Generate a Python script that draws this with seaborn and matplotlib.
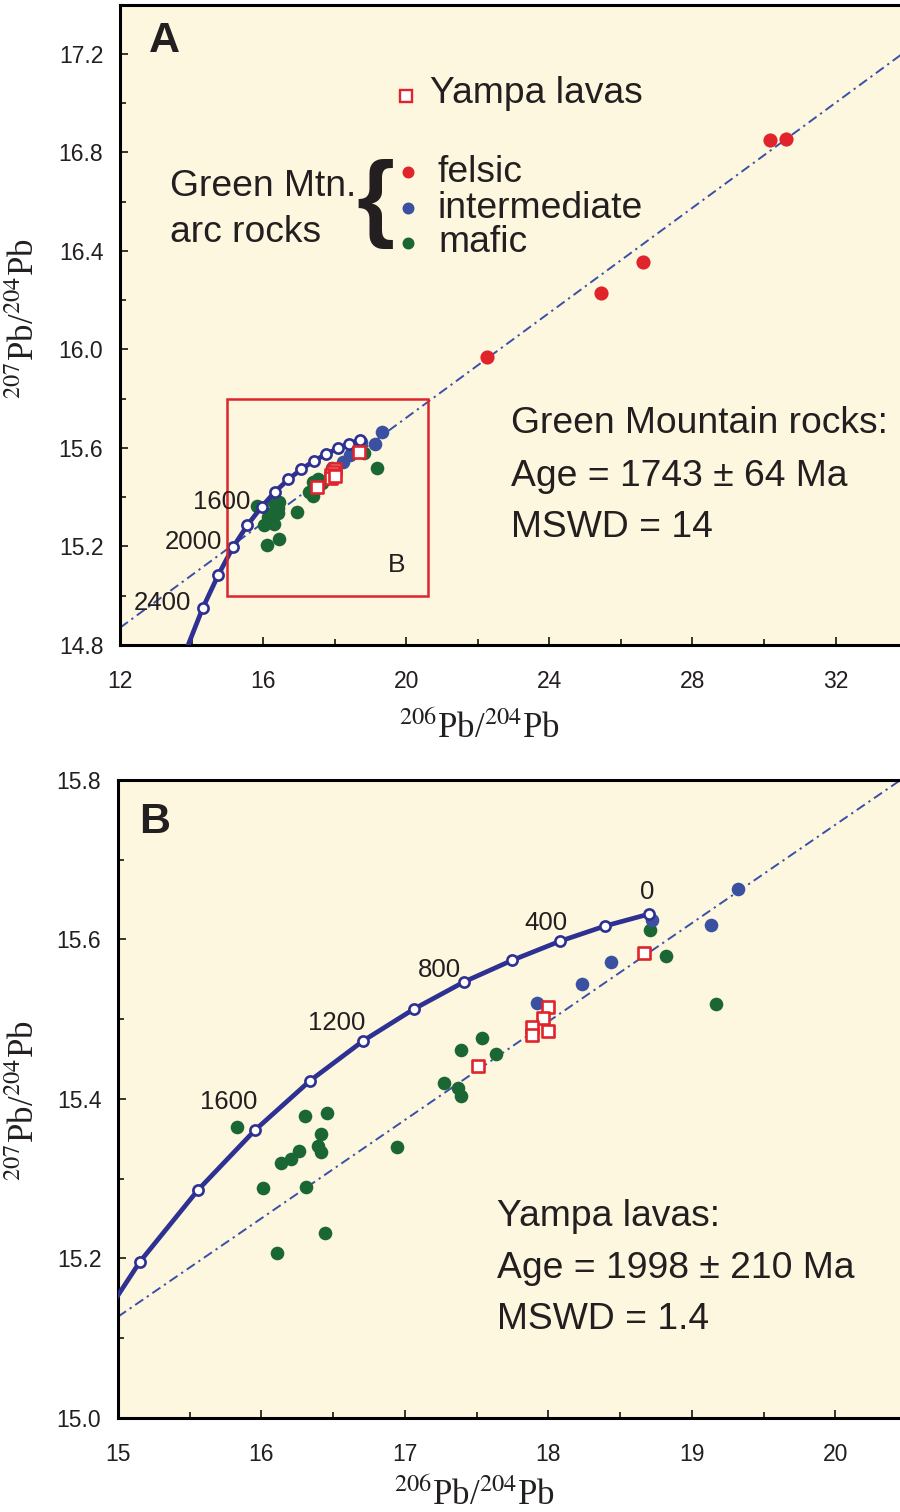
import matplotlib
matplotlib.use("Agg")
import matplotlib.pyplot as plt
import seaborn as sns
import pandas as pd
from matplotlib.ticker import MultipleLocator, FormatStrFormatter
from matplotlib.patches import Rectangle
from matplotlib.lines import Line2D

# ---------------- data ----------------
curve_age = [0, 200, 400, 600, 800, 1000, 1200, 1400, 1600, 1800, 2000, 2200, 2400, 2600]
curve_x = [18.703, 18.396, 18.082, 17.748, 17.413, 17.064, 16.709, 16.339,
           15.955, 15.558, 15.153, 14.742, 14.309, 13.864]
curve_y = [15.632, 15.617, 15.598, 15.574, 15.547, 15.513, 15.473, 15.423,
           15.361, 15.286, 15.196, 15.083, 14.949, 14.785]
labels_A = [1600, 2000, 2400]
labels_B = [0, 400, 800, 1200, 1600]

felsic_x = [22.25, 25.44, 26.61, 30.16, 30.60]
felsic_y = [15.970, 16.230, 16.356, 16.851, 16.855]

inter_x = [18.724, 19.324, 19.135, 18.438, 18.236, 17.922]
inter_y = [15.624, 15.663, 15.618, 15.572, 15.544, 15.520]

mafic_x = [15.830, 16.304, 16.457, 16.416, 16.395, 16.416, 16.262, 16.206, 16.137,
           16.011, 16.311, 16.946, 16.444, 16.109, 17.273, 17.371, 17.392, 17.392,
           17.538, 17.636, 18.710, 18.822, 19.170]
mafic_y = [15.365, 15.379, 15.382, 15.356, 15.341, 15.334, 15.335, 15.325, 15.320,
           15.288, 15.290, 15.340, 15.232, 15.207, 15.420, 15.414, 15.404, 15.461,
           15.476, 15.456, 15.612, 15.579, 15.519]

yampa_x = [18.668, 17.999, 17.964, 17.887, 17.887, 17.999, 17.510]
yampa_y = [15.583, 15.515, 15.502, 15.490, 15.480, 15.485, 15.441]

iso_A_x = [12.0, 34.0]
iso_A_y = [14.87, 17.215]
iso_B_x = [15.0, 20.6]
iso_B_y = [15.127, 15.818]

box_B_x = [15.0, 20.6]
box_B_y = [15.0, 15.8]

# ---------------- style ----------------
BG = "#fcf7de"
RED = "#e0242b"
BLUE = "#3a50a0"
GREEN = "#1a6634"
NAVY = "#2e3192"
ISO = "#3a50a8"
TXT = "#231f20"

sns.set_theme(style="ticks")
plt.rcParams['font.family'] = ['Liberation Sans', 'DejaVu Sans']
plt.rcParams['mathtext.fontset'] = 'stix'
plt.rcParams['lines.scale_dashes'] = False

W, H = 900, 1512
P = 0.72  # points per pixel at dpi 100
fig = plt.figure(figsize=(9, 15.12), dpi=100)
fig.patch.set_facecolor("white")


def fx(x):
    return x / W


def fy(y):
    return 1 - y / H


axA = fig.add_axes([fx(120), fy(645), fx(780), (645 - 4.7) / H])
axB = fig.add_axes([fx(118), fy(1418), fx(782), (1418 - 780) / H])

curve = pd.DataFrame({"age": curve_age, "x": curve_x, "y": curve_y})


def draw(ax, node_max, iso_x, iso_y):
    sns.lineplot(x=iso_x, y=iso_y, ax=ax, color=ISO, lw=1.4,
                 linestyle=(0, (7.0, 3.2, 1.6, 3.2)),
                 zorder=2, sort=False, estimator=None)
    sns.scatterplot(x=mafic_x, y=mafic_y, ax=ax, color=GREEN, s=96, linewidth=0, zorder=3)
    sns.scatterplot(x=inter_x, y=inter_y, ax=ax, color=BLUE, s=96, linewidth=0, zorder=3)
    sns.scatterplot(x=felsic_x, y=felsic_y, ax=ax, color=RED, s=104, linewidth=0, zorder=3)
    sns.lineplot(data=curve, x="x", y="y", ax=ax, color=NAVY, lw=3.4, sort=False,
                 estimator=None, zorder=4)
    nodes = curve[curve["age"] <= node_max]
    sns.scatterplot(data=nodes, x="x", y="y", ax=ax, marker="o", s=54,
                    facecolor="white", edgecolor=NAVY, linewidth=1.9, zorder=5)
    sns.scatterplot(x=yampa_x, y=yampa_y, ax=ax, marker="s", s=70,
                    facecolor="white", edgecolor=RED, linewidth=1.9, zorder=6)


def style(ax, xlim, ylim, xmaj, xmin, ymaj, ymin):
    ax.set_facecolor(BG)
    ax.set_xlim(xlim)
    ax.set_ylim(ylim)
    ax.xaxis.set_major_locator(MultipleLocator(xmaj))
    ax.xaxis.set_minor_locator(MultipleLocator(xmin))
    ax.yaxis.set_major_locator(MultipleLocator(ymaj))
    ax.yaxis.set_minor_locator(MultipleLocator(ymin))
    ax.xaxis.set_major_formatter(FormatStrFormatter('%d'))
    ax.yaxis.set_major_formatter(FormatStrFormatter('%.1f'))
    ax.tick_params(which='both', direction='in', color='black', width=1.1,
                   labelsize=16.5, labelcolor=TXT, top=False, right=False)
    ax.tick_params(which='major', length=6)
    ax.tick_params(which='minor', length=4.5)
    ax.tick_params(axis='x', which='major', pad=18)
    ax.tick_params(axis='y', which='major', pad=12)
    for s in ['left', 'bottom', 'top']:
        ax.spines[s].set_linewidth(2.2)
        ax.spines[s].set_color('black')
    ax.spines['right'].set_visible(False)
    ax.set_xlabel('')
    ax.set_ylabel('')
    if ax.get_legend():
        ax.get_legend().remove()


# ---------------- panel A ----------------
draw(axA, 2400, iso_A_x, iso_A_y)
style(axA, (12, 33.8), (14.8, 17.4), 4, 2, 0.4, 0.2)
axA.add_patch(Rectangle((box_B_x[0], box_B_y[0]), box_B_x[1] - box_B_x[0],
                        box_B_y[1] - box_B_y[0], fill=False, edgecolor=RED,
                        lw=1.8, zorder=7))
for age in labels_A:
    r = curve[curve["age"] == age].iloc[0]
    axA.annotate(str(age), xy=(r.x, r.y), xytext=(-11 * P, -2 * P),
                 textcoords='offset points', ha='right', va='baseline',
                 fontsize=18.5, color=TXT, zorder=8)

# ---------------- panel B ----------------
draw(axB, 2200, iso_B_x, iso_B_y)
style(axB, (15, 20.45), (15.0, 15.8), 1, 0.5, 0.2, 0.1)
offB = {0: (-2.5, 15), 400: (-14.5, 11), 800: (-25, 5), 1200: (-26.5, 11), 1600: (-26.5, 21)}
for age in labels_B:
    r = curve[curve["age"] == age].iloc[0]
    dx, dy = offB[age]
    axB.annotate(str(age), xy=(r.x, r.y), xytext=(dx * P, dy * P),
                 textcoords='offset points', ha='center', va='baseline',
                 fontsize=18.5, color=TXT, zorder=8)

# ---------------- text ----------------
big = 26.8


def T(x, y, s, **kw):
    kw.setdefault('fontsize', big)
    kw.setdefault('color', TXT)
    kw.setdefault('va', 'baseline')
    fig.text(fx(x), fy(y), s, **kw)


T(149, 52, "A", fontsize=31, fontweight='bold')
T(139, 833, "B", fontsize=31, fontweight='bold')
T(388, 572, "B", fontsize=19)

T(430, 103, "Yampa lavas")
T(170, 196, "Green Mtn.")
T(170, 242, "arc rocks")
T(438, 182, "felsic")
T(438, 218, "intermediate")
T(438, 252, "mafic")
fig.text(fx(375), fy(204), "{", fontsize=70, fontweight='bold', color=TXT,
         ha='center', va='center')

fig.add_artist(Line2D([fx(406)], [fy(96)], marker='s', ms=9, mfc='white', mec=RED,
                      mew=1.7, transform=fig.transFigure))
for yy, c in [(172, RED), (208, BLUE), (243, GREEN)]:
    fig.add_artist(Line2D([fx(408)], [fy(yy)], marker='o', ms=8.6, mfc=c, mec=c,
                          mew=0, transform=fig.transFigure))

T(511, 433, "Green Mountain rocks:")
T(511, 486, "Age = 1743 ± 64 Ma")
T(511, 537, "MSWD = 14")

T(497, 1226, "Yampa lavas:")
T(497, 1278, "Age = 1998 ± 210 Ma")
T(497, 1329, "MSWD = 1.4")

lab = r"$^{206}$Pb/$^{204}$Pb"
ylab = r"$^{207}$Pb/$^{204}$Pb"
fam = ['Liberation Serif', 'DejaVu Serif']
fig.text(fx(480), fy(738), lab, fontsize=25, ha='center', va='baseline', color=TXT, family=fam)
fig.text(fx(475), fy(1505), lab, fontsize=25, ha='center', va='baseline', color=TXT, family=fam)
fig.text(fx(25), fy(318), ylab, fontsize=25, ha='center', va='center', rotation=90, color=TXT, family=fam)
fig.text(fx(25), fy(1100), ylab, fontsize=25, ha='center', va='center', rotation=90, color=TXT, family=fam)

fig.savefig("out.png", dpi=100, facecolor="white")
